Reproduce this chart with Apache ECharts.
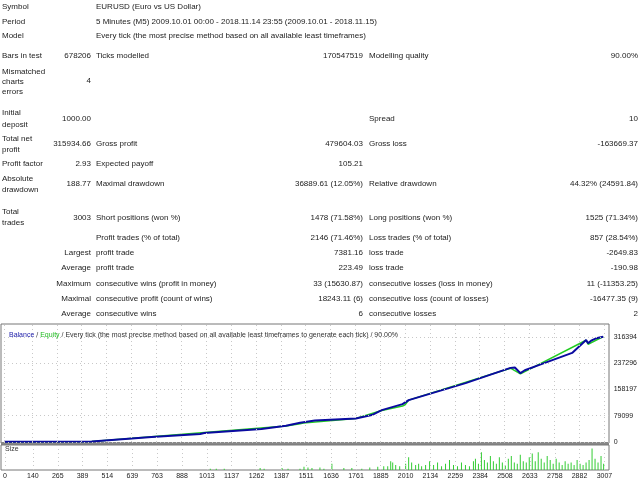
<!DOCTYPE html>
<html>
<head>
<meta charset="utf-8">
<script src="https://cdn.jsdelivr.net/npm/echarts@6/dist/echarts.min.js"></script>
<style>
	body{margin:0;width:640px;height:480px;background:#fff;overflow:hidden;position:relative;font-family:"Liberation Sans",Arial,sans-serif;font-size:8px;color:#222;}
	#report span{position:absolute;white-space:nowrap;line-height:10px;}
	#chart{position:absolute;left:0;top:0;width:640px;height:480px;}
</style>
</head>
<body>
<div id="chart"></div>
<div id="report"></div>
<script type="text/javascript">
	// balance curve: [trade number, balance]
	var balance = [[0,1000],[440,1500],[450,6000],[740,15000],[983,24000],[1004,27000],[1290,39000],[1413,49000],[1484,58000],[1558,65000],[1763,71000],[1843,81000],[1893,96000],[1997,114000],[2028,126000],[2313,177000],[2538,223000],[2560,224000],[2588,207000],[2610,216000],[2683,232000],[2847,268000],[2917,307000],[2927,297000],[2945,306000],[2967,312000],[3003,316934]];
	var equity = [[0,1000],[440,1500],[450,6000],[1413,48000],[1484,55000],[1500,57000],[1763,71000],[1893,95000],[1997,108000],[2010,112000],[2028,126000],[2538,222000],[2588,205000],[2917,306000],[2927,294000],[3003,316934]];
	// lot size per trade (sampled bars)
	var sizes = [[1030,0.1],[1060,0.1],[1100,0.1],[1280,0.15],[1300,0.1],[1390,0.15],[1420,0.1],[1480,0.1],[1500,0.25],[1520,0.2],[1540,0.15],[1580,0.2],[1600,0.1],[1640,0.5],[1700,0.15],[1740,0.15],[1790,0.1],[1830,0.2],[1870,0.25],[1900,0.3],[1920,0.3],[1935,0.7],[1945,0.6],[1960,0.4],[1980,0.3],[2010,0.5],[2025,1.0],[2040,0.6],[2060,0.4],[2075,0.5],[2090,0.3],[2110,0.4],[2130,0.7],[2150,0.4],[2170,0.6],[2190,0.3],[2210,0.5],[2230,0.8],[2250,0.4],[2270,0.3],[2290,0.6],[2310,0.4],[2330,0.3],[2350,0.7],[2360,0.9],[2375,0.5],[2390,1.4],[2405,0.8],[2420,0.6],[2435,1.1],[2450,0.7],[2465,0.5],[2480,1.0],[2495,0.6],[2510,0.4],[2525,0.9],[2540,1.1],[2555,0.6],[2570,0.5],[2585,1.2],[2600,0.7],[2615,0.6],[2630,1.0],[2645,1.3],[2660,0.7],[2675,1.4],[2690,0.9],[2705,0.6],[2720,1.1],[2735,0.8],[2750,0.5],[2765,0.9],[2780,0.6],[2795,0.4],[2810,0.7],[2825,0.5],[2840,0.6],[2855,0.4],[2870,0.8],[2885,0.5],[2900,0.4],[2915,0.6],[2930,0.8],[2945,1.7],[2960,0.9],[2975,0.6],[2990,1.1],[3003,0.5]];
	var xTicks = [0,140,265,389,514,639,763,888,1013,1137,1262,1387,1511,1636,1761,1885,2010,2134,2259,2384,2508,2633,2758,2882,3007];
	var yTicks = [0,79099,158197,237296,316394];

	// report table: [x, y, text, align]
	var rows = [
		[2,7,'Symbol'],[96,7,'EURUSD (Euro vs US Dollar)'],
		[2,22,'Period'],[96,22,'5 Minutes (M5) 2009.10.01 00:00 - 2018.11.14 23:55 (2009.10.01 - 2018.11.15)'],
		[2,36,'Model'],[96,36,'Every tick (the most precise method based on all available least timeframes)'],
		[2,56,'Bars in test'],[91,56,'678206','r'],[96,56,'Ticks modelled'],[363,56,'170547519','r'],[369,56,'Modelling quality'],[638,56,'90.00%','r'],
		[2,72,'Mismatched'],[2,82,'charts'],[2,92,'errors'],[91,81,'4','r'],
		[2,113,'Initial'],[2,125,'deposit'],[91,119,'1000.00','r'],[369,119,'Spread'],[638,119,'10','r'],
		[2,139,'Total net'],[2,150,'profit'],[91,144,'315934.66','r'],[96,144,'Gross profit'],[363,144,'479604.03','r'],[369,144,'Gross loss'],[638,144,'-163669.37','r'],
		[2,164,'Profit factor'],[91,164,'2.93','r'],[96,164,'Expected payoff'],[363,164,'105.21','r'],
		[2,179,'Absolute'],[2,190,'drawdown'],[91,184,'188.77','r'],[96,184,'Maximal drawdown'],[363,184,'36889.61 (12.05%)','r'],[369,184,'Relative drawdown'],[638,184,'44.32% (24591.84)','r'],
		[2,212,'Total'],[2,223,'trades'],[91,218,'3003','r'],[96,218,'Short positions (won %)'],[363,218,'1478 (71.58%)','r'],[369,218,'Long positions (won %)'],[638,218,'1525 (71.34%)','r'],
		[96,238,'Profit trades (% of total)'],[363,238,'2146 (71.46%)','r'],[369,238,'Loss trades (% of total)'],[638,238,'857 (28.54%)','r'],
		[91,253,'Largest','r'],[96,253,'profit trade'],[363,253,'7381.16','r'],[369,253,'loss trade'],[638,253,'-2649.83','r'],
		[91,268,'Average','r'],[96,268,'profit trade'],[363,268,'223.49','r'],[369,268,'loss trade'],[638,268,'-190.98','r'],
		[91,284,'Maximum','r'],[96,284,'consecutive wins (profit in money)'],[363,284,'33 (15630.87)','r'],[369,284,'consecutive losses (loss in money)'],[638,284,'11 (-11353.25)','r'],
		[91,299,'Maximal','r'],[96,299,'consecutive profit (count of wins)'],[363,299,'18243.11 (6)','r'],[369,299,'consecutive loss (count of losses)'],[638,299,'-16477.35 (9)','r'],
		[91,314,'Average','r'],[96,314,'consecutive wins'],[363,314,'6','r'],[369,314,'consecutive losses'],[638,314,'2','r']
	];
	var html = '';
	for(var i = 0;i < rows.length;i ++){
		var r = rows[i];
		if(r[3] == 'r'){
			html += '<span style="right:'+(640-r[0])+'px;top:'+(r[1]-5)+'px">'+r[2]+'</span>';
		}else{
			html += '<span style="left:'+r[0]+'px;top:'+(r[1]-5)+'px">'+r[2]+'</span>';
		}
	}
	document.getElementById('report').innerHTML = html;

	var plain = function(v){ return String(v); };
	var dotted = {color:'#c8c8c8',type:[1,3],width:1};
	var myChart = echarts.init(document.getElementById('chart'));
	var option = {
		animation:false,
		textStyle:{fontFamily:'Liberation Sans'},
		title:{
			left:4,top:327,
			text:'{b|Balance} / {g|Equity} / Every tick (the most precise method based on all available least timeframes to generate each tick) / 90.00%',
			textStyle:{fontSize:7,fontWeight:'normal',color:'#333',rich:{b:{color:'#1a1aa8',fontSize:7},g:{color:'#22bb22',fontSize:7}}}
		},
		graphic:[
			{type:'rect',shape:{x:1,y:324,width:608,height:119},style:{fill:'none',stroke:'#777',lineWidth:1}},
			{type:'rect',shape:{x:1,y:442,width:608,height:3},style:{fill:'#888'}},
			{type:'rect',shape:{x:1,y:445,width:608,height:25},style:{fill:'none',stroke:'#777',lineWidth:1}},
			{type:'text',left:5,top:446,style:{text:'Size',fontSize:7,fill:'#333'}}
		],
		grid:[
			{left:4,right:31,top:324,height:118},
			{left:4,right:31,top:446,height:24}
		],
		xAxis:[
			{gridIndex:0,type:'value',min:0,max:3030,axisLine:{show:false},axisTick:{show:false},axisLabel:{show:false},splitLine:{show:false}},
			{gridIndex:1,type:'value',min:0,max:3030,axisLine:{show:false},axisTick:{show:false},
				axisLabel:{customValues:xTicks,formatter:plain,fontSize:7,color:'#222',margin:3},splitLine:{show:false}}
		],
		yAxis:[
			{gridIndex:0,type:'value',position:'right',min:0,max:355000,axisLine:{show:false},axisTick:{show:false},
				axisLabel:{customValues:yTicks,formatter:plain,fontSize:7,color:'#222',margin:5},splitLine:{show:false}},
			{gridIndex:1,type:'value',min:0,max:1.9,axisLine:{show:false},axisTick:{show:false},axisLabel:{show:false},splitLine:{show:false}}
		],
		series:[
			{type:'line',xAxisIndex:0,yAxisIndex:0,data:[],silent:true,
				markLine:{symbol:'none',silent:true,label:{show:false},lineStyle:dotted,
					data:xTicks.map(function(v){return {xAxis:v};}).concat(yTicks.map(function(v){return {yAxis:v};}))}},
			{type:'line',xAxisIndex:1,yAxisIndex:1,data:[],silent:true,
				markLine:{symbol:'none',silent:true,label:{show:false},lineStyle:dotted,
					data:xTicks.map(function(v){return {xAxis:v};})}},
			{name:'Equity',type:'line',xAxisIndex:0,yAxisIndex:0,data:equity,showSymbol:false,lineStyle:{color:'#22cc22',width:1.5}},
			{name:'Balance',type:'line',xAxisIndex:0,yAxisIndex:0,data:balance,showSymbol:false,lineStyle:{color:'#0a0aa0',width:2}},
			{name:'Size',type:'bar',xAxisIndex:1,yAxisIndex:1,data:sizes,barWidth:1,itemStyle:{color:'#33cc33'}}
		]
	};
	myChart.setOption(option);
</script>
</body>
</html>
